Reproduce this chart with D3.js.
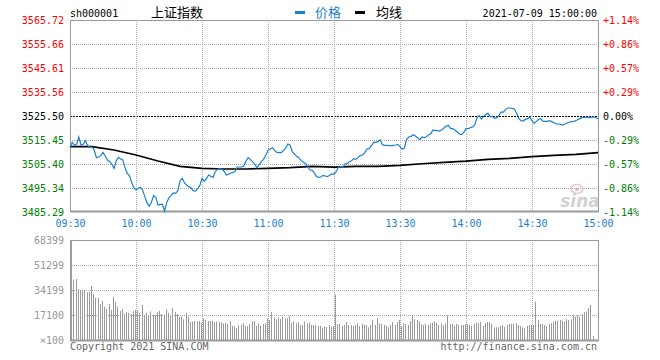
<!DOCTYPE html>
<html><head><meta charset="utf-8">
<script src="https://cdn.jsdelivr.net/npm/d3@7"></script>
<style>body{margin:0;background:#fff}svg{display:block;background:#fff}</style>
</head><body><svg id="c" width="660" height="360"></svg>
<script>
const code = "sh000001";
const title = "上证指数";
const legendNames = ["价格", "均线"];
const stamp = "2021-07-09 15:00:00";
const prevClose = 3525.50;
const priceTicks = [3565.72,3555.66,3545.61,3535.56,3525.50,3515.45,3505.40,3495.34,3485.29];
const pctLabels = ["+1.14%","+0.86%","+0.57%","+0.29%","0.00%","-0.29%","-0.57%","-0.86%","-1.14%"];
const timeLabels = ["09:30","10:00","10:30","11:00","11:30","13:30","14:00","14:30","15:00"];
const timeIndex = [0,30,60,90,120,150,180,210,240];
const volTicks = [68399,51299,34199,17100,0];
const volTickLabels = ["68399","51299","34199","17100","\u00d7100"];

const prices = [
3512.24,3514.47,3513.35,3513.63,3516.70,3513.35,3513.63,3515.17,3513.07,3512.52,
3512.52,3511.26,3508.05,3508.33,3508.89,3510.28,3508.75,3507.07,3506.51,3505.26,
3503.58,3506.65,3508.19,3507.49,3507.07,3503.86,3501.49,3500.51,3497.72,3495.49,
3494.51,3495.21,3495.63,3494.51,3491.72,3489.20,3487.67,3489.34,3492.13,3491.30,
3488.23,3488.51,3488.51,3485.71,3489.34,3491.30,3492.13,3493.25,3493.11,3494.09,
3498.28,3499.39,3497.58,3496.46,3495.90,3495.49,3494.23,3494.09,3495.07,3496.32,
3499.39,
3498.14,3499.25,3500.79,3500.23,3499.81,3502.05,3503.16,3503.44,3503.16,3502.46,
3500.79,3501.07,3501.63,3501.77,3502.19,3504.14,3504.14,3504.14,3504.56,3506.65,
3508.05,3507.21,3506.37,3505.26,3503.86,3505.12,3506.37,3507.35,3509.17,3511.12,
3511.68,3512.24,3511.12,3510.28,3510.14,3510.14,3511.12,3511.96,3513.77,3513.35,
3510.56,3509.58,3508.61,3508.05,3506.93,3506.10,3505.68,3504.42,3502.88,3502.74,
3501.77,3500.23,3499.81,3499.95,3500.65,3500.37,3500.09,3500.65,3501.21,3501.07,
3502.19,3504.00,3504.42,3504.00,3505.40,3505.54,3506.37,3506.79,3507.63,3507.35,
3508.19,3509.03,3509.17,3510.14,3511.68,3511.82,3513.07,3514.47,3514.47,3514.75,
3515.59,3513.49,3513.21,3513.21,3513.07,3513.07,3513.21,3513.35,3513.63,3512.66,
3511.54,3512.10,3515.73,3516.70,3516.98,3517.68,3517.12,3516.43,3515.59,3516.70,
3516.43,3516.84,3517.68,3518.10,3519.64,3519.50,3519.36,3519.22,3519.78,3520.47,
3521.31,3521.59,3520.19,3520.19,3519.64,3518.80,3517.96,3517.68,3518.66,3520.19,
3520.19,3520.61,3520.89,3521.87,3524.80,3525.64,3524.24,3525.36,3526.20,3526.62,
3525.22,3525.36,3524.52,3524.80,3525.78,3527.17,3527.17,3528.29,3528.85,3528.85,
3528.71,3528.43,3526.62,3524.52,3523.55,3523.41,3524.10,3524.38,3525.08,3523.55,
3522.43,3523.27,3524.10,3524.38,3523.27,3523.27,3523.27,3523.55,3523.13,3522.71,
3522.15,3522.15,3522.01,3521.73,3522.15,3522.57,3522.99,3523.13,3523.27,3523.55,
3524.10,3524.52,3524.94,3524.94,3524.94,3524.94,3524.80,3525.22,3524.80,3524.38
];

const avgIndex = [0,10,20,30,40,50,60,70,80,90,100,110,120,130,140,150,160,170,180,190,200,210,220,230,240];
const avgPrices = [3512.66,3512.70,3511.26,3509.17,3506.65,3504.42,3503.58,3503.30,3503.30,3503.58,3503.86,3504.42,3504.10,
3504.42,3504.42,3504.84,3505.50,3506.10,3506.60,3507.35,3507.77,3508.47,3509.03,3509.45,3510.20];

const volumes = [
43800,41300,41800,34800,34200,34200,34200,32800,32800,36900,31500,28800,28800,24600,26700,22800,21200,24600,20500,29600,26000,22800,19800,21000,18200,19200,18700,17800,19800,20500,
20070,18700,24170,17100,18700,16870,19610,17330,16870,19150,20070,17780,17100,20970,18700,16420,21890,19150,17780,15500,15960,14140,18700,15960,12540,12540,13000,13000,13000,11860,
14820,13680,13000,13000,13000,12080,12540,12310,12080,11400,11860,10940,13000,9580,9580,8210,10030,10490,11400,9580,9580,10940,12540,13000,9580,11400,9580,10940,11400,14800,
13680,19150,15500,14140,15500,14360,15960,14820,14820,16420,11860,12770,11400,12310,10260,10260,12770,11400,12080,10260,10260,10260,9580,9580,7980,9120,8890,10260,9120,9580,
31010,10940,10940,9580,10260,12310,10260,10260,9580,10260,11400,9580,10940,10260,10260,8660,10260,13680,10260,14820,11400,10940,10260,9580,8660,10260,12310,10260,12310,13680,
9580,11400,10940,10260,13000,17100,14140,13680,12770,10940,10260,10940,10260,11400,11860,12770,11860,10260,11400,10030,11400,16870,10940,10940,9580,10940,10260,10260,10260,10940,
10940,10260,9580,10940,11860,11400,12310,9580,11400,12310,12310,10940,8660,8660,8660,9580,10260,9120,10260,10940,10940,10940,11400,10260,9580,8660,7980,9580,10260,10260,
10260,26220,13680,10940,10940,10260,9580,10940,11400,12540,13220,13220,13680,13220,12540,14360,13680,14140,16870,15960,16870,15960,17780,18920,19380,21890,23940,2740,0,0
];

const svg = d3.select("#c");
const mono = "'DejaVu Sans Mono', 'Liberation Mono', monospace";
const cjk = "'Noto Sans CJK SC', sans-serif";
const L = 70, R = 598;
const x = d3.scaleLinear().domain([0, 240]).range([L, R]);
const y = d3.scaleLinear().domain([3485.29, 3565.72]).range([212, 20]);
const yv = d3.scaleLinear().domain([0, 68399]).range([340, 240]);
const red = "#ff0000", green = "#008000", gridC = "#aaaaaa", frameC = "#9a9a9a";
const colorOf = v => Math.abs(v - prevClose) < 0.005 ? "#000" : (v > prevClose ? red : green);

// price grid
const g = svg.append("g");
g.selectAll("line.h").data(priceTicks.filter(v => v !== priceTicks[0] && v !== priceTicks[priceTicks.length-1]))
  .join("line").attr("x1", L).attr("x2", R)
  .attr("y1", d => Math.round(y(d)) + 0.5).attr("y2", d => Math.round(y(d)) + 0.5)
  .attr("stroke", d => d === prevClose ? "#000" : gridC)
  .attr("stroke-dasharray", d => d === prevClose ? "2,1" : "1,1");
g.selectAll("line.v").data(timeIndex.slice(1, -1)).join("line")
  .attr("x1", d => Math.round(x(d)) + 0.5).attr("x2", d => Math.round(x(d)) + 0.5)
  .attr("y1", 20).attr("y2", 211).attr("stroke", gridC).attr("stroke-dasharray", "1,1");

// volume grid
g.selectAll("line.vh").data(volTicks.slice(1, -1)).join("line")
  .attr("x1", L).attr("x2", R)
  .attr("y1", d => Math.round(yv(d)) + 0.5).attr("y2", d => Math.round(yv(d)) + 0.5)
  .attr("stroke", gridC).attr("stroke-dasharray", "1,1");
g.selectAll("line.vv").data(timeIndex.slice(1, -1)).join("line")
  .attr("x1", d => Math.round(x(d)) + 0.5).attr("x2", d => Math.round(x(d)) + 0.5)
  .attr("y1", 240).attr("y2", 340).attr("stroke", gridC).attr("stroke-dasharray", "1,1");

// volume bars
svg.append("g").selectAll("line").data(volumes).join("line")
  .attr("x1", (d, i) => Math.round(x(i + 0.5)) + 0.5).attr("x2", (d, i) => Math.round(x(i + 0.5)) + 0.5)
  .attr("y1", 340).attr("y2", d => yv(d))
  .attr("stroke", "#9a9a9a").attr("stroke-width", 1);

// frames
svg.append("rect").attr("x", L + 0.5).attr("y", 20.5).attr("width", R - L).attr("height", 191)
  .attr("fill", "none").attr("stroke", frameC);
svg.append("line").attr("x1", L).attr("x2", R + 1).attr("y1", 211.5).attr("y2", 211.5).attr("stroke", frameC).attr("stroke-width", 2);
svg.append("rect").attr("x", L + 0.5).attr("y", 240.5).attr("width", R - L).attr("height", 100)
  .attr("fill", "none").attr("stroke", frameC);
svg.append("line").attr("x1", L + 1).attr("x2", L + 1).attr("y1", 240).attr("y2", 341).attr("stroke", frameC).attr("stroke-width", 2);
svg.append("line").attr("x1", L).attr("x2", R + 1).attr("y1", 340.5).attr("y2", 340.5).attr("stroke", frameC).attr("stroke-width", 2);

// watermark
const wm = svg.append("g").attr("opacity", 0.75);
wm.append("ellipse").attr("cx", 577).attr("cy", 189).attr("rx", 6).attr("ry", 4.5)
  .attr("fill", "none").attr("stroke", "#e0b8b8").attr("stroke-width", 1.6);
wm.append("circle").attr("cx", 577).attr("cy", 189.5).attr("r", 1.8).attr("fill", "#d8a8a8");
wm.append("text").attr("x", 580).attr("y", 207).attr("text-anchor", "middle")
  .attr("font-family", "'DejaVu Sans', sans-serif").attr("font-style", "italic").attr("font-weight", "bold")
  .attr("font-size", 17).attr("fill", "#c4c4c4").text("sina");

// lines
svg.append("path").datum(avgPrices)
  .attr("d", d3.line().x((d, i) => x(avgIndex[i])).y(d => y(d)))
  .attr("fill", "none").attr("stroke", "#000").attr("stroke-width", 1.7);
svg.append("path").datum(prices)
  .attr("d", d3.line().x((d, i) => x(i)).y(d => y(d)))
  .attr("fill", "none").attr("stroke", "#1a80d0").attr("stroke-width", 1.2);

// axes
function styleAxis(sel) {
  sel.select(".domain").remove();
  sel.selectAll(".tick line").remove();
  sel.selectAll("text").attr("font-family", mono).attr("font-size", 10);
}
const ax1 = svg.append("g").attr("transform", "translate(64,0)")
  .call(d3.axisLeft(y).tickValues(priceTicks).tickSize(0).tickPadding(0).tickFormat(d3.format(".2f")));
styleAxis(ax1);
ax1.selectAll("text").attr("fill", d => colorOf(d));

const ax2 = svg.append("g").attr("transform", "translate(603,0)")
  .call(d3.axisRight(y).tickValues(priceTicks).tickSize(0).tickPadding(0).tickFormat((d, i) => pctLabels[i]));
styleAxis(ax2);
ax2.selectAll("text").attr("fill", d => colorOf(d));

const ax3 = svg.append("g").attr("transform", "translate(0,219.5)")
  .call(d3.axisBottom(x).tickValues(timeIndex).tickSize(0).tickPadding(0).tickFormat((d, i) => timeLabels[i]));
styleAxis(ax3);
ax3.selectAll("text").attr("fill", "#1a80d0");

const ax4 = svg.append("g").attr("transform", "translate(64,0)")
  .call(d3.axisLeft(yv).tickValues(volTicks).tickSize(0).tickPadding(0).tickFormat((d, i) => volTickLabels[i]));
styleAxis(ax4);
ax4.selectAll("text").attr("fill", "#999");

// header
svg.append("text").attr("x", 70).attr("y", 16.5).attr("font-family", mono).attr("font-size", 10).attr("fill", "#000").text(code);
svg.append("text").attr("x", 151).attr("y", 17).attr("font-family", cjk).attr("font-size", 13).attr("fill", "#000").text(title);
svg.append("line").attr("x1", 295).attr("x2", 305).attr("y1", 12.5).attr("y2", 12.5).attr("stroke", "#1a80d0").attr("stroke-width", 3);
svg.append("text").attr("x", 315).attr("y", 17).attr("font-family", cjk).attr("font-size", 13).attr("fill", "#1a80d0").text(legendNames[0]);
svg.append("line").attr("x1", 355).attr("x2", 365).attr("y1", 12.5).attr("y2", 12.5).attr("stroke", "#000").attr("stroke-width", 3);
svg.append("text").attr("x", 376).attr("y", 17).attr("font-family", cjk).attr("font-size", 13).attr("fill", "#000").text(legendNames[1]);
svg.append("text").attr("x", 597).attr("y", 16.5).attr("text-anchor", "end").attr("font-family", mono).attr("font-size", 10).attr("fill", "#000").text(stamp);

// footer
svg.append("text").attr("x", 70).attr("y", 349.5).attr("font-family", mono).attr("font-size", 10).attr("fill", "#666").text("Copyright 2021 SINA.COM");
svg.append("text").attr("x", 597).attr("y", 349.5).attr("text-anchor", "end").attr("font-family", mono).attr("font-size", 10).attr("fill", "#666").text("http://finance.sina.com.cn");
</script></body></html>
